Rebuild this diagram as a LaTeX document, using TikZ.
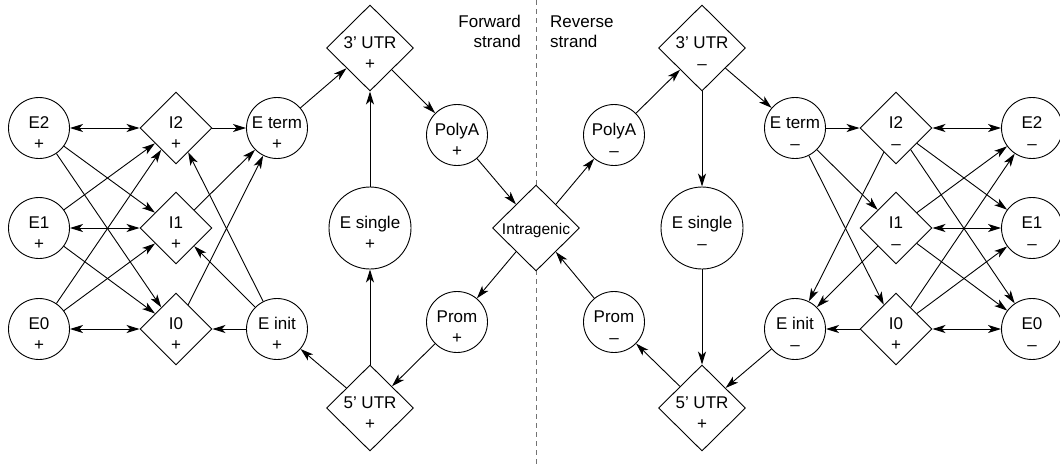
\documentclass[tikz,border=0pt]{standalone}
\usepackage{fontspec}
\setmainfont{Liberation Sans}
\usetikzlibrary{arrows.meta,shapes.geometric}
\newcommand{\twolab}[5]{%
  \node[lbl] (#1-a) at (#2,#3) {#4};
  \node[lbl] (#1-b) at (#2,#3+21.5) {#5};}
\begin{document}
\begin{tikzpicture}[x=1pt,y=-1pt,
  every node/.style={font=\fontsize{17}{20}\selectfont},
  circ/.style={draw, circle, minimum size=61pt, inner sep=0pt, fill=white, line width=0.9pt},
  bcirc/.style={circ, minimum size=82pt},
  dia/.style={draw, diamond, minimum width=72pt, minimum height=72pt, inner sep=0pt, fill=white, line width=0.9pt},
  bdia/.style={dia, minimum width=87pt, minimum height=86pt},
  lbl/.style={inner sep=0pt, anchor=base},
  tip/.tip={Stealth[length=13pt,width=8pt,inset=3.5pt]},
  arr/.style={line width=0.9pt, -tip},
  darr/.style={line width=0.9pt, tip-tip},
  sepline/.style={draw=black!55, dash pattern=on 5pt off 4pt, line width=0.9pt}
]
\useasboundingbox (0,0) rectangle (1060,464);
% separator
\coordinate (sepTop) at (536,0);
\coordinate (sepBot) at (536,464);
\draw[sepline] (sepTop) -- (sepBot);
\node[lbl, anchor=base east] (fw1) at (521,27) {Forward};
\node[lbl, anchor=base east] (fw2) at (521,47) {strand};
\node[lbl, anchor=base west] (rv1) at (550,27) {Reverse};
\node[lbl, anchor=base west] (rv2) at (550,47) {strand};
% forward strand shapes
\node[circ] (E2p) at (39,128) {};
\node[circ] (E1p) at (39,228) {};
\node[circ] (E0p) at (39,329) {};
\node[dia] (I2p) at (176,128) {};
\node[dia] (I1p) at (176,228) {};
\node[dia] (I0p) at (176,329) {};
\node[circ] (Etp) at (277,128) {};
\node[circ] (Eip) at (277,329) {};
\node[bdia] (U3p) at (370,48) {};
\node[bcirc] (Esp) at (370,228) {};
\node[bdia] (U5p) at (370,408) {};
\node[circ] (PAp) at (457,135) {};
\node[circ] (Prp) at (457,322) {};
\node[bdia] (Intra) at (536,228) {};
% reverse strand shapes
\node[circ] (PAm) at (614,135) {};
\node[circ] (Prm) at (614,322) {};
\node[bdia] (U3m) at (702,48) {};
\node[bcirc] (Esm) at (702,228) {};
\node[bdia] (U5m) at (702,408) {};
\node[circ] (Etm) at (795,128) {};
\node[circ] (Eim) at (795,329) {};
\node[dia] (I2m) at (896,128) {};
\node[dia] (I1m) at (896,228) {};
\node[dia] (I0m) at (896,329) {};
\node[circ] (E2m) at (1032,128) {};
\node[circ] (E1m) at (1032,228) {};
\node[circ] (E0m) at (1032,329) {};
% labels
\twolab{tE2p}{39}{128}{E2}{+}
\twolab{tE1p}{39}{228}{E1}{+}
\twolab{tE0p}{39}{329}{E0}{+}
\twolab{tI2p}{176}{128}{I2}{+}
\twolab{tI1p}{176}{228}{I1}{+}
\twolab{tI0p}{176}{329}{I0}{+}
\twolab{tEtp}{277}{128}{E term}{+}
\twolab{tEip}{277}{329}{E init}{+}
\twolab{tU3p}{370}{48}{3’ UTR}{+}
\twolab{tEsp}{370}{228}{E single}{+}
\twolab{tU5p}{370}{408}{5’ UTR}{+}
\twolab{tPAp}{457}{135}{PolyA}{+}
\twolab{tPrp}{457}{322}{Prom}{+}
\node[lbl, font=\fontsize{15.5}{18}\selectfont] (tIntra) at (536,234) {Intragenic};
\twolab{tPAm}{614}{135}{PolyA}{–}
\twolab{tPrm}{614}{322}{Prom}{–}
\twolab{tU3m}{702}{48}{3’ UTR}{–}
\twolab{tEsm}{702}{228}{E single}{–}
\twolab{tU5m}{702}{408}{5’ UTR}{+}
\twolab{tEtm}{795}{128}{E term}{–}
\twolab{tEim}{795}{329}{E init}{–}
\twolab{tI2m}{896}{128}{I2}{–}
\twolab{tI1m}{896}{228}{I1}{–}
\twolab{tI0m}{896}{329}{I0}{+}
\twolab{tE2m}{1032}{128}{E2}{–}
\twolab{tE1m}{1032}{228}{E1}{–}
\twolab{tE0m}{1032}{329}{E0}{–}
% forward connectors
\draw[darr] (E2p) -- (I2p);
\draw[darr] (E1p) -- (I1p);
\draw[darr] (E0p) -- (I0p);
\draw[arr] (E2p) -- (I1p);
\draw[arr] (E2p) -- (I0p);
\draw[arr] (E1p) -- (I2p);
\draw[arr] (E1p) -- (I0p);
\draw[arr] (E0p) -- (I2p);
\draw[arr] (E0p) -- (I1p);
\draw[arr] (I2p) -- (Etp);
\draw[arr] (I1p) -- (Etp);
\draw[arr] (I0p) -- (Etp);
\draw[arr] (Eip) -- (I0p);
\draw[arr] (Eip) -- (I1p);
\draw[arr] (Eip) -- (I2p);
\draw[arr] (Etp) -- (U3p);
\draw[arr] (Esp) -- (U3p);
\draw[arr] (U3p) -- (PAp);
\draw[arr] (U5p) -- (Esp);
\draw[arr] (U5p) -- (Eip);
\draw[arr] (Prp) -- (U5p);
\draw[arr] (PAp) -- (Intra);
\draw[arr] (Intra) -- (Prp);
% reverse connectors
\draw[arr] (Intra) -- (PAm);
\draw[arr] (Prm) -- (Intra);
\draw[arr] (PAm) -- (U3m);
\draw[arr] (U3m) -- (Etm);
\draw[arr] (U3m) -- (Esm);
\draw[arr] (Esm) -- (U5m);
\draw[arr] (U5m) -- (Prm);
\draw[arr] (Eim) -- (U5m);
\draw[arr] (Etm) -- (I2m);
\draw[arr] (Etm) -- (I1m);
\draw[arr] (Etm) -- (I0m);
\draw[arr] (I2m) -- (Eim);
\draw[arr] (I1m) -- (Eim);
\draw[arr] (I0m) -- (Eim);
\draw[darr] (I2m) -- (E2m);
\draw[darr] (I1m) -- (E1m);
\draw[darr] (I0m) -- (E0m);
\draw[arr] (I2m) -- (E1m);
\draw[arr] (I2m) -- (E0m);
\draw[arr] (I1m) -- (E2m);
\draw[arr] (I1m) -- (E0m);
\draw[arr] (I0m) -- (E2m);
\draw[arr] (I0m) -- (E1m);
\end{tikzpicture}
\end{document}
